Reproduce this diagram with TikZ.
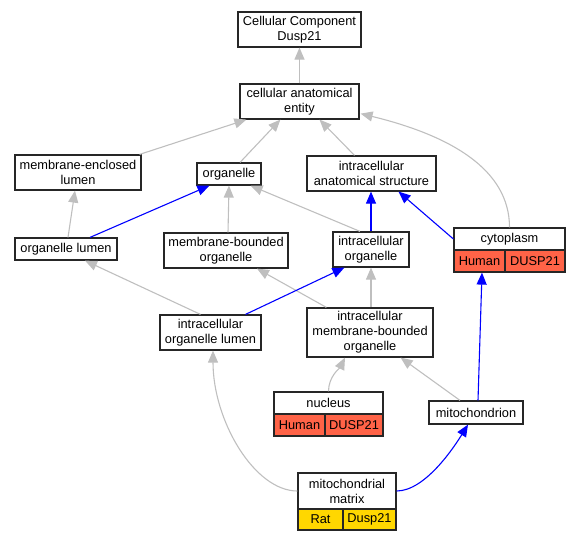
\documentclass[tikz,border=0pt]{standalone}
\usepackage{fontspec}
\setmainfont{Liberation Sans}
\usetikzlibrary{arrows.meta,calc}
\definecolor{hum}{HTML}{FF6347}
\definecolor{rat}{HTML}{FFD700}
\begin{document}
\begin{tikzpicture}[x=1pt,y=-1pt,
 box/.style={draw=black!85, line width=1.2pt, fill=white, inner sep=0pt, align=center, font=\fontsize{12.8}{15}\selectfont},
 humcell/.style={box, fill=hum},
 ratcell/.style={box, fill=rat},
 gedge/.style={draw=black!25, line width=1.1pt, -{Triangle[length=12pt,width=10pt]}},
 bedge/.style={draw=blue, line width=1.1pt, -{Triangle[length=12pt,width=10pt]}},
 ]
\useasboundingbox (0,0) rectangle (580,541);
% nodes
\node[box, minimum width=123pt, minimum height=35pt] (cc) at (299.5,29.5) {Cellular Component\\Dusp21};
\node[box, minimum width=119pt, minimum height=35pt] (cae) at (299.5,101.5) {cellular anatomical\\entity};
\node[box, minimum width=126pt, minimum height=35pt] (mel) at (78,172.5) {membrane-enclosed\\lumen};
\node[box, minimum width=64pt, minimum height=22pt] (org) at (229,174) {organelle};
\node[box, minimum width=129pt, minimum height=35pt] (ias) at (371.5,173.5) {intracellular\\anatomical structure};
\node[box, minimum width=102pt, minimum height=22pt] (ol) at (66,249) {organelle lumen};
\node[box, minimum width=124pt, minimum height=35pt] (mbo) at (226,250.5) {membrane-bounded\\organelle};
\node[box, minimum width=76pt, minimum height=35pt] (io) at (371,249.5) {intracellular\\organelle};
\node[box, minimum width=111pt, minimum height=22pt] (cyto) at (509.5,239) {cytoplasm};
\node[humcell, minimum width=51pt, minimum height=22pt] (cytoH) at (479.5,261) {Human};
\node[humcell, minimum width=60pt, minimum height=22pt] (cytoD) at (535,261) {DUSP21};
\node[box, minimum width=101pt, minimum height=35pt] (iol) at (210.5,332.5) {intracellular\\organelle lumen};
\node[box, minimum width=126pt, minimum height=49pt] (imbo) at (370,332.5) {intracellular\\membrane-bounded\\organelle};
\node[box, minimum width=109pt, minimum height=22pt] (nuc) at (328.5,403) {nucleus};
\node[humcell, minimum width=51pt, minimum height=22pt] (nucH) at (299.5,425) {Human};
\node[humcell, minimum width=58pt, minimum height=22pt] (nucD) at (354,425) {DUSP21};
\node[box, minimum width=94pt, minimum height=23pt] (mito) at (476,412.5) {mitochondrion};
\node[box, minimum width=98pt, minimum height=36pt] (mm) at (347,491) {mitochondrial\\matrix};
\node[ratcell, minimum width=45pt, minimum height=21pt] (mmR) at (320.5,519.5) {Rat};
\node[ratcell, minimum width=53pt, minimum height=21pt] (mmD) at (369.5,519.5) {Dusp21};
% edges
\draw[gedge] (cae.north) -- (cc.south);
\draw[gedge] ($(mel.north east)+(-2,0)$) -- ($(cae.south west)+(7,0)$);
\draw[gedge] ($(org.north)+(11,0)$) -- ($(cae.south west)+(41,0)$);
\draw[gedge] ($(ias.north)+(-17,0)$) -- ($(cae.south)+(20,0)$);
\draw[gedge] (cyto.north) .. controls +(0,-58) and +(90,22) .. ($(cae.south east)+(1,-6)$);
\draw[gedge] ($(ol.north)+(2,0)$) -- ($(mel.south)+(-3,0)$);
\draw[gedge] ($(mbo.north)+(2,0)$) -- (org.south);
\draw[gedge] ($(io.north)+(-11,0)$) -- ($(org.south east)+(-11,0)$);
\draw[bedge] ($(ol.north)+(24,0)$) -- ($(org.south west)+(13,0)$);
\draw[bedge] (io.north) -- (io.north |- ias.south);
\draw[bedge] (cyto.west) -- ($(ias.south)+(27,0)$);
\draw[gedge] ($(iol.north)+(-10,0)$) -- ($(ol.south)+(19,0)$);
\draw[gedge] ($(imbo.north west)+(20,0)$) -- ($(mbo.south)+(31,0)$);
\draw[bedge] ($(iol.north)+(35,0)$) -- ($(io.south west)+(12,0)$);
\draw[gedge] (imbo.north -| io.south) -- (io.south);
\draw[gedge] (nuc.north) .. controls +(0,-15) and +(-5,10) .. ($(imbo.south)+(-25,0)$);
\draw[gedge] ($(mito.north)+(-16,0)$) -- ($(imbo.south east)+(-33,0)$);
\draw[bedge] ($(mito.north)+(2,0)$) -- ($(cytoH.south)+(2.5,0)$);
\draw[gedge] (mm.west) .. controls +(-43,0) and +(0,70) .. ($(iol.south)+(2.5,0)$);
\draw[bedge] (mm.east) .. controls +(29,0) and +(-13,21) .. ($(mito.south)+(-8,0)$);
\end{tikzpicture}
\end{document}
